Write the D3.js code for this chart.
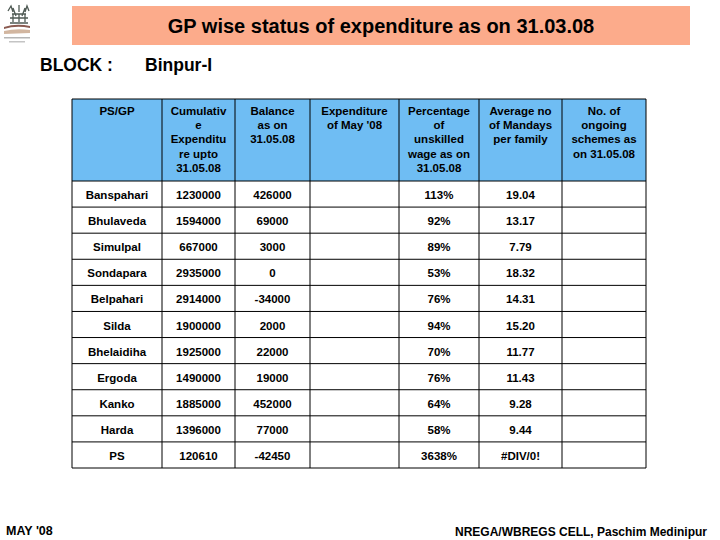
<!DOCTYPE html>
<html>
<head>
<meta charset="utf-8">
<script src="https://cdn.jsdelivr.net/npm/d3@7"></script>
<style>
  html, body { margin: 0; padding: 0; background: #fff; }
  svg { display: block; }
  text { font-family: "Liberation Sans", Arial, sans-serif; font-weight: bold; fill: #000; }
</style>
</head>
<body>
<div class="canvas"></div>
<script>
const gpNames = ['Banspahari', 'Bhulaveda', 'Simulpal', 'Sondapara', 'Belpahari', 'Silda', 'Bhelaidiha', 'Ergoda', 'Kanko', 'Harda', 'PS'];
const cumulative = [1230000, 1594000, 667000, 2935000, 2914000, 1900000, 1925000, 1490000, 1885000, 1396000, 120610];
const balance = [426000, 69000, 3000, 0, -34000, 2000, 22000, 19000, 452000, 77000, -42450];
const unskilled = ['113%', '92%', '89%', '53%', '76%', '94%', '70%', '76%', '64%', '58%', '3638%'];
const mandays = ['19.04', '13.17', '7.79', '18.32', '14.31', '15.20', '11.77', '11.43', '9.28', '9.44', '#DIV/0!'];

const headers = [
  ['PS/GP'],
  ['Cumulativ', 'e', 'Expenditu', 're upto', '31.05.08'],
  ['Balance', 'as on', '31.05.08'],
  ['Expenditure', 'of  May \'08'],
  ['Percentage', 'of', 'unskilled', 'wage as on', '31.05.08'],
  ['Average no', 'of Mandays', 'per family'],
  ['No. of', 'ongoing', 'schemes as', 'on 31.05.08']
];

const dims = {width: 720, height: 540};
const colEdges = [72, 162, 235, 310, 399, 479, 562, 646];
const table = {top: 99, headBottom: 181, bottom: 468};

const svg = d3.select('.canvas')
  .append('svg')
  .attr('width', dims.width)
  .attr('height', dims.height);

// title band
svg.append('rect')
  .attr('x', 72).attr('y', 6)
  .attr('width', 618).attr('height', 39)
  .attr('fill', '#fcab8b');

svg.append('text')
  .attr('x', 381).attr('y', 33)
  .attr('text-anchor', 'middle')
  .attr('font-size', 20)
  .text('GP wise status of expenditure as on 31.03.08');

svg.append('text')
  .attr('x', 40).attr('y', 71)
  .attr('font-size', 17.5)
  .text('BLOCK :');

svg.append('text')
  .attr('x', 145).attr('y', 71)
  .attr('font-size', 17.5)
  .text('Binpur-I');

// scales
const columnIndex = d3.range(headers.length);
const x = d3.scaleOrdinal(columnIndex, colEdges);
const y = d3.scaleBand(gpNames, [table.headBottom, table.bottom]);

// header cells
const head = svg.append('g');
head.selectAll('rect')
  .data(columnIndex)
  .enter()
  .append('rect')
  .attr('x', i => x(i))
  .attr('y', table.top)
  .attr('width', i => colEdges[i + 1] - colEdges[i])
  .attr('height', table.headBottom - table.top)
  .attr('fill', '#6fbdf3');

head.selectAll('text')
  .data(headers)
  .enter()
  .append('text')
  .attr('class', 'head')
  .attr('text-anchor', 'middle')
  .attr('font-size', 11.5)
  .attr('transform', (d, i) => `translate(${(colEdges[i] + colEdges[i + 1]) / 2},${table.top})`)
  .selectAll('tspan')
  .data(d => d)
  .enter()
  .append('tspan')
  .attr('x', 0)
  .attr('y', (d, i) => 15.5 + i * 14.4)
  .text(d => d);

// body cells
const columns = [gpNames, cumulative, balance, null, unskilled, mandays, null];
const body = svg.append('g');
columns.forEach((values, c) => {
  if (!values) return;
  body.selectAll(`text.col${c}`)
    .data(values)
    .enter()
    .append('text')
    .attr('class', `col${c}`)
    .attr('x', (colEdges[c] + colEdges[c + 1]) / 2)
    .attr('y', (d, i) => y(gpNames[i]) + y.bandwidth() / 2 + 5)
    .attr('text-anchor', 'middle')
    .attr('font-size', 11.5)
    .text(d => d);
});

// grid lines
const grid = svg.append('g').attr('stroke', '#000').attr('stroke-width', 1);
grid.selectAll('line.v')
  .data(colEdges)
  .enter()
  .append('line')
  .attr('class', 'v')
  .attr('x1', d => d).attr('x2', d => d)
  .attr('y1', table.top).attr('y2', table.bottom);

grid.selectAll('line.h')
  .data([table.top, ...gpNames.map(d => y(d)), table.bottom])
  .enter()
  .append('line')
  .attr('class', 'h')
  .attr('x1', colEdges[0]).attr('x2', colEdges[colEdges.length - 1])
  .attr('y1', d => d).attr('y2', d => d);

// logo, rough
const logo = svg.append('g');
logo.append('path')
  .attr('d', 'M8 11 L11 6 L13 12 M13 8 L16 16 M22 16 L25 8 M25 12 L27 6 L29 11 M19 5 L19 12 M12 14 L26 14 M10 18 L28 18 M13 22 L13 14 M19 22 L19 14 M25 22 L25 14 M10 23 L28 23')
  .attr('fill', 'none')
  .attr('stroke', '#4f5a54')
  .attr('stroke-width', 1.3);
logo.append('path')
  .attr('d', 'M4 27 Q16 23 30 26 L30 28 Q16 25 4 29 Z')
  .attr('fill', '#8a5a50');
logo.append('path')
  .attr('d', 'M4 31 Q16 28 30 30 L30 33 L4 34 Z')
  .attr('fill', '#d2b6a0');
logo.append('rect')
  .attr('x', 4).attr('y', 37).attr('width', 26).attr('height', 1.5)
  .attr('fill', '#b5b5b5');
logo.append('rect')
  .attr('x', 9).attr('y', 41).attr('width', 16).attr('height', 1.5)
  .attr('fill', '#c4c4c4');

// footer
svg.append('text')
  .attr('x', 6).attr('y', 535)
  .attr('font-size', 12.5)
  .text("MAY '08");

svg.append('text')
  .attr('x', 707).attr('y', 536)
  .attr('text-anchor', 'end')
  .attr('font-size', 12)
  .text('NREGA/WBREGS CELL, Paschim Medinipur');
</script>
</body>
</html>
